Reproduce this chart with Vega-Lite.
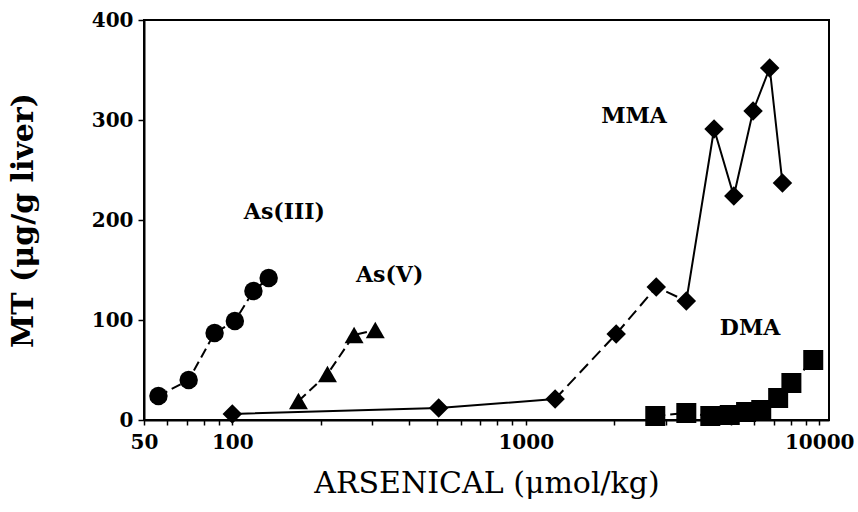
{
  "$schema": "https://vega.github.io/schema/vega-lite/v6.json",
  "width": 685,
  "height": 400,
  "autosize": {"type": "none"},
  "padding": {"left": 144, "top": 20, "right": 29, "bottom": 92},
  "background": "white",
  "config": {
    "view": {"stroke": "black", "strokeWidth": 2},
    "axis": {"grid": false, "domainColor": "black", "domainWidth": 2, "tickColor": "black", "tickWidth": 1.5, "labelColor": "black", "titleColor": "black"}
  },
  "datasets": {
    "pts": [
      {"compound": "As(III)", "dose": 56, "mt": 24},
      {"compound": "As(III)", "dose": 71, "mt": 40},
      {"compound": "As(III)", "dose": 87, "mt": 87},
      {"compound": "As(III)", "dose": 102, "mt": 99},
      {"compound": "As(III)", "dose": 118, "mt": 129},
      {"compound": "As(III)", "dose": 133, "mt": 142},
      {"compound": "As(V)", "dose": 168, "mt": 19},
      {"compound": "As(V)", "dose": 211, "mt": 46},
      {"compound": "As(V)", "dose": 260, "mt": 85},
      {"compound": "As(V)", "dose": 307, "mt": 90},
      {"compound": "MMA", "dose": 100, "mt": 6},
      {"compound": "MMA", "dose": 505, "mt": 12},
      {"compound": "MMA", "dose": 1259, "mt": 21},
      {"compound": "MMA", "dose": 2033, "mt": 86},
      {"compound": "MMA", "dose": 2784, "mt": 133},
      {"compound": "MMA", "dose": 3525, "mt": 119},
      {"compound": "MMA", "dose": 4383, "mt": 291},
      {"compound": "MMA", "dose": 5117, "mt": 224},
      {"compound": "MMA", "dose": 5953, "mt": 309},
      {"compound": "MMA", "dose": 6782, "mt": 352},
      {"compound": "MMA", "dose": 7495, "mt": 237},
      {"compound": "DMA", "dose": 2763, "mt": 4},
      {"compound": "DMA", "dose": 3525, "mt": 7},
      {"compound": "DMA", "dose": 4255, "mt": 4},
      {"compound": "DMA", "dose": 4957, "mt": 5},
      {"compound": "DMA", "dose": 5634, "mt": 8},
      {"compound": "DMA", "dose": 6346, "mt": 10},
      {"compound": "DMA", "dose": 7247, "mt": 22},
      {"compound": "DMA", "dose": 8040, "mt": 37},
      {"compound": "DMA", "dose": 9544, "mt": 60}
    ],
    "labels": [
      {"text": "As(III)", "dose": 150.5, "mt": 208},
      {"text": "As(V)", "dose": 343.6, "mt": 145},
      {"text": "MMA", "dose": 2339, "mt": 304},
      {"text": "DMA", "dose": 5815, "mt": 92}
    ]
  },
  "encoding": {
    "x": {
      "field": "dose", "type": "quantitative",
      "scale": {"type": "log", "domain": [50, 10800], "nice": false},
      "axis": {
        "title": "ARSENICAL (μmol/kg)",
        "values": [50, 60, 70, 80, 90, 100, 200, 300, 400, 500, 600, 700, 800, 900, 1000, 2000, 3000, 4000, 5000, 6000, 7000, 8000, 9000, 10000],
        "format": "d",
        "labelExpr": "indexof([50,100,1000,10000], datum.value) >= 0 ? datum.label : ''",
        "labelOverlap": false,
        "labelFlush": false,
        "tickSize": 5,
        "labelPadding": 7,
        "labelFont": "DejaVu Serif", "labelFontWeight": "bold", "labelFontSize": 20,
        "titleFont": "DejaVu Serif", "titleFontWeight": "normal", "titleFontSize": 30,
        "titlePadding": 16
      }
    },
    "y": {
      "field": "mt", "type": "quantitative",
      "scale": {"domain": [0, 400], "nice": false},
      "axis": {
        "title": "MT (μg/g liver)",
        "values": [0, 100, 200, 300, 400],
        "tickSize": 6,
        "labelPadding": 5,
        "labelFont": "DejaVu Serif", "labelFontWeight": "bold", "labelFontSize": 20,
        "titleFont": "DejaVu Serif", "titleFontWeight": "bold", "titleFontSize": 30,
        "titlePadding": 53
      }
    }
  },
  "layer": [
    {
      "data": {"name": "pts"},
      "transform": [{"filter": "datum.compound !== 'MMA'"}],
      "mark": {"type": "line", "color": "black", "strokeWidth": 2, "strokeDash": [10, 5]},
      "encoding": {"detail": {"field": "compound"}}
    },
    {
      "data": {"name": "pts"},
      "transform": [{"filter": "datum.compound === 'MMA' && datum.dose <= 1300"}],
      "mark": {"type": "line", "color": "black", "strokeWidth": 2},
      "encoding": {}
    },
    {
      "data": {"name": "pts"},
      "transform": [{"filter": "datum.compound === 'MMA' && datum.dose >= 1200 && datum.dose <= 3600"}],
      "mark": {"type": "line", "color": "black", "strokeWidth": 2, "strokeDash": [12, 6]},
      "encoding": {}
    },
    {
      "data": {"name": "pts"},
      "transform": [{"filter": "datum.compound === 'MMA' && datum.dose >= 3500"}],
      "mark": {"type": "line", "color": "black", "strokeWidth": 2},
      "encoding": {}
    },
    {
      "data": {"name": "pts"},
      "mark": {"type": "point", "filled": true, "color": "black", "opacity": 1},
      "encoding": {
        "shape": {"field": "compound", "type": "nominal", "scale": {"domain": ["As(III)", "As(V)", "MMA", "DMA"], "range": ["circle", "triangle-up", "diamond", "square"]}, "legend": null},
        "size": {"field": "compound", "type": "nominal", "scale": {"domain": ["As(III)", "As(V)", "MMA", "DMA"], "range": [340, 400, 540, 390]}, "legend": null}
      }
    },
    {
      "data": {"name": "labels"},
      "mark": {"type": "text", "font": "DejaVu Serif", "fontWeight": "bold", "fontSize": 22, "color": "black", "align": "center", "baseline": "middle"},
      "encoding": {"text": {"field": "text"}}
    }
  ]
}
